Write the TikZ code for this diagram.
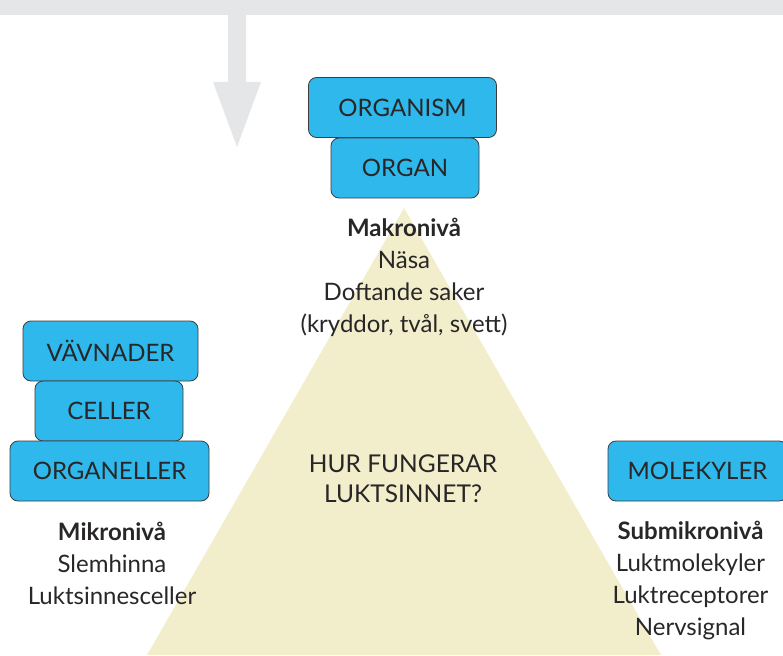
\documentclass[tikz,border=0pt]{standalone}
\usepackage{fontspec}
\setmainfont{Lato}
\definecolor{bargrey}{RGB}{229,230,232}
\definecolor{trifill}{RGB}{242,238,204}
\definecolor{boxblue}{RGB}{47,184,235}
\definecolor{boxline}{RGB}{60,60,62}
\definecolor{txt}{RGB}{40,38,38}
\tikzset{
  lvl/.style={rounded corners=8pt, fill=boxblue, draw=boxline, line width=0.8pt,
    text=txt, font=\fontsize{24}{26}\selectfont, minimum height=60pt, inner sep=0pt},
  info/.style={align=center, text=txt, font=\fontsize{24}{32}\selectfont, inner sep=0pt, anchor=north},
  hdr/.style={align=center, text=txt, font=\fontsize{24.5}{30}\selectfont, inner sep=0pt}
}
\begin{document}
\begin{tikzpicture}[x=1pt,y=-1pt]
\useasboundingbox (0,0) rectangle (783,655);
% top bar
\fill[bargrey] (0,0) rectangle (783,15);
% down arrow
\fill[bargrey] (228,15) -- (246,15) -- (246,82) -- (261,82) -- (237,147) -- (213,82) -- (228,82) -- cycle;
% pyramid
\fill[trifill] (404,208) -- (661,655) -- (147,655) -- cycle;
% boxes
\node[lvl, minimum width=188pt] (organism) at (402.5,107.5) {ORGANISM};
\node[lvl, minimum width=148pt] (organ) at (405,168) {ORGAN};
\node[lvl, minimum width=175pt] (vavnader) at (110.5,351) {VÄVNADER};
\node[lvl, minimum width=148pt] (celler) at (109,411) {CELLER};
\node[lvl, minimum width=199pt] (organeller) at (109.5,471) {ORGANELLER};
\node[lvl, minimum width=179pt] (molekyler) at (697.5,471) {MOLEKYLER};
% texts
\node[info] (makro) at (404,218) {\textbf{Makronivå}\\Näsa\\Doftande saker\\(kryddor, tvål, svett)};
\node[info] (mikro) at (112,522) {\textbf{Mikronivå}\\Slemhinna\\Luktsinnesceller};
\node[info] (submikro) at (690.5,521) {\textbf{Submikronivå}\\Luktmolekyler\\Luktreceptorer\\Nervsignal};
\node[hdr] (fraga) at (403,479) {HUR FUNGERAR\\LUKTSINNET?};
\end{tikzpicture}
\end{document}
